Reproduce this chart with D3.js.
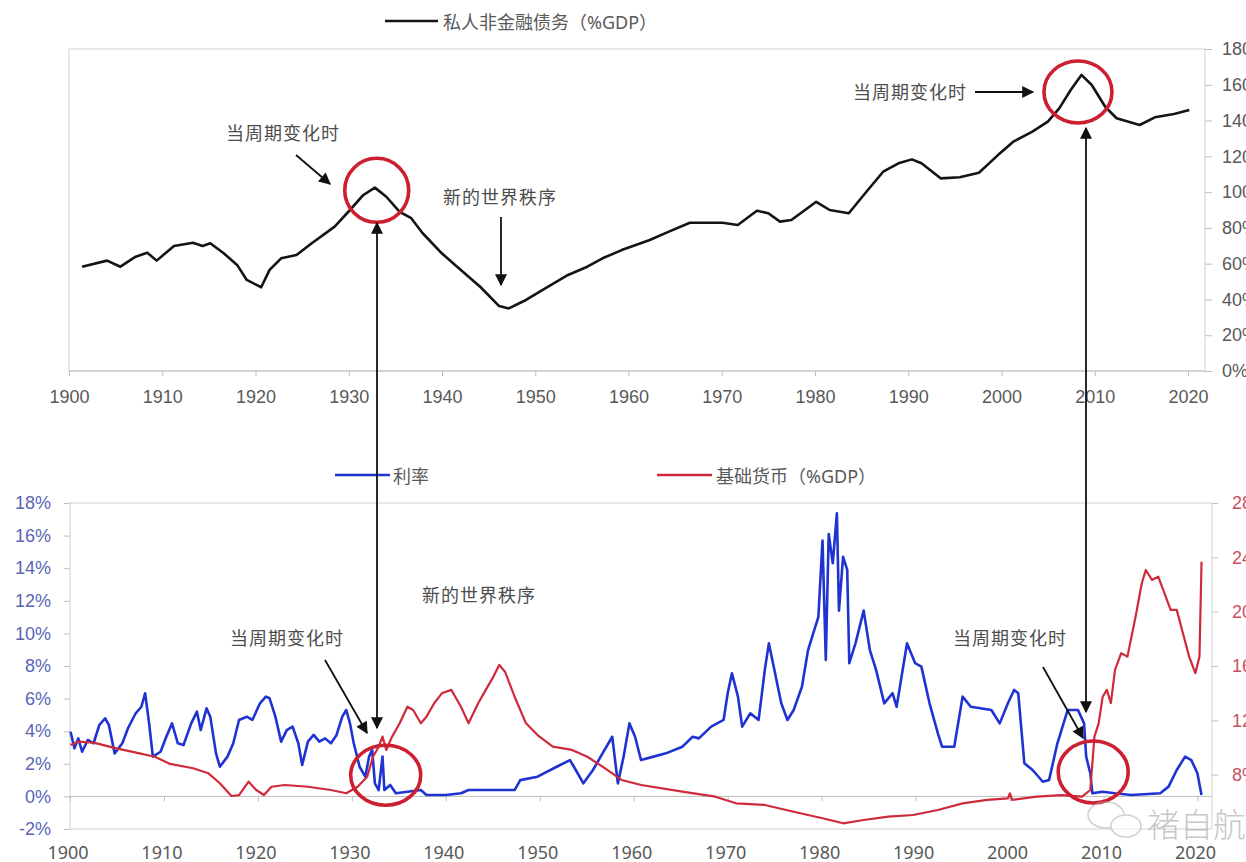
<!DOCTYPE html>
<html>
<head>
<meta charset="utf-8">
<script src="https://cdn.jsdelivr.net/npm/d3@7"></script>
<style>
  body { margin: 0; background: #fff; overflow: hidden; }
  svg { display: block; font-family: "Noto Sans", "Noto Sans CJK SC", sans-serif; }
</style>
</head>
<body>
<div id="chart"></div>
<script>
// private non-financial debt (%GDP)
const debtYears = [1901.40,1904.08,1905.51,1907.15,1908.39,1909.40,1911.26,1913.30,1914.33,1915.15,
  1916.59,1918.03,1919.06,1920.61,1921.51,1922.75,1924.39,1926.03,1928.49,1930.13,
  1931.57,1932.80,1934.03,1935.46,1936.70,1937.93,1939.98,1941.62,1944.09,1946.13,
  1947.16,1949.01,1951.07,1953.52,1955.58,1957.22,1959.27,1962.28,1964.33,1966.58,
  1970.08,1971.72,1973.77,1975.00,1976.24,1977.47,1980.13,1981.57,1983.62,1985.67,
  1987.31,1988.95,1990.39,1991.42,1993.47,1995.52,1997.58,1999.62,2001.26,2003.31,
  2004.97,2006.19,2007.42,2008.57,2009.68,2011.12,2012.34,2014.81,2016.45,2018.50,2020.14];
const debtValues = [58.3,61.7,58.3,63.9,66.1,61.7,69.9,71.7,69.9,71.4,
  65.8,59.3,50.9,46.8,56.5,63.0,64.8,71.4,80.7,90.0,
  98.4,102.5,97.4,89.0,85.4,77.0,65.8,58.3,47.1,36.3,
  35.0,39.7,46.2,53.7,58.3,63.0,67.6,73.2,77.9,82.9,
  82.9,81.6,89.6,88.2,83.5,84.4,94.6,90.0,88.2,101.2,
  111.4,116.1,118.3,116.1,107.7,108.3,110.8,120.7,128.2,133.8,
  139.4,146.8,157.1,165.5,159.9,147.7,141.3,137.5,141.8,143.7,145.9];

// interest rate (%), left axis of the bottom panel
const rateYears = [1900.06,1900.47,1900.88,1901.29,1901.89,1902.51,1903.12,1903.74,1904.14,1904.75,
  1905.57,1906.17,1906.99,1907.60,1908.00,1908.42,1908.82,1909.64,1910.25,1910.86,
  1911.47,1912.08,1912.90,1913.51,1913.91,1914.53,1914.93,1915.54,1915.95,1916.76,
  1917.38,1917.99,1918.81,1919.41,1920.22,1920.84,1921.24,1921.86,1922.47,1923.07,
  1923.69,1924.30,1924.71,1925.32,1925.93,1926.54,1927.15,1927.77,1928.37,1928.98,
  1929.40,1929.80,1930.20,1930.82,1931.43,1931.83,1932.16,1932.45,1932.85,1933.26,
  1933.46,1934.08,1934.68,1935.91,1937.34,1937.94,1939.99,1941.61,1942.42,1947.32,
  1947.92,1949.76,1951.80,1953.21,1953.83,1954.64,1955.66,1956.68,1957.71,1958.31,
  1958.92,1959.54,1960.14,1960.77,1962.11,1963.42,1965.18,1966.27,1966.93,1968.24,
  1969.56,1970.00,1970.45,1971.09,1971.54,1972.41,1973.29,1973.95,1974.38,1974.82,
  1975.70,1976.36,1977.02,1977.90,1978.55,1979.21,1979.65,1980.09,1980.44,1980.75,
  1981.18,1981.62,1981.84,1982.28,1982.72,1982.94,1983.60,1984.47,1985.13,1985.79,
  1986.66,1987.54,1987.98,1989.08,1989.95,1990.61,1991.48,1992.37,1992.81,1994.11,
  1995.00,1995.87,1998.06,1998.95,1999.82,2000.48,2000.92,2001.57,2002.45,2003.54,
  2004.20,2005.09,2006.18,2007.28,2007.93,2008.15,2008.59,2008.81,2009.91,2011.22,
  2012.97,2016.04,2016.92,2017.79,2018.68,2019.34,2019.99,2020.43];
const rateValues = [3.97,2.95,3.56,2.74,3.46,3.26,4.38,4.79,4.38,2.64,
  3.26,4.18,5.10,5.50,6.33,4.48,2.44,2.74,3.66,4.48,
  3.26,3.15,4.48,5.20,4.07,5.40,4.89,2.64,1.82,2.44,
  3.26,4.69,4.89,4.69,5.71,6.12,6.02,4.89,3.36,4.07,
  4.28,3.26,1.93,3.36,3.77,3.36,3.56,3.26,3.77,4.89,
  5.30,4.48,3.26,1.82,1.21,2.44,2.85,0.80,0.39,2.44,
  0.39,0.70,0.19,0.29,0.39,0.09,0.09,0.19,0.39,0.39,
  1.00,1.21,1.82,2.23,1.62,0.80,1.62,2.64,3.66,0.80,
  2.44,4.48,3.66,2.23,2.44,2.64,3.05,3.66,3.56,4.28,
  4.69,6.33,7.55,6.12,4.28,5.10,4.69,7.76,9.39,8.17,
  5.71,4.69,5.30,6.73,8.98,10.20,11.02,15.70,8.37,16.10,
  14.30,17.37,11.40,14.70,13.90,8.17,9.39,11.40,8.98,7.76,
  5.71,6.33,5.50,9.39,8.17,7.96,5.71,3.87,3.05,3.05,
  6.12,5.50,5.30,4.48,5.71,6.53,6.33,2.03,1.62,0.90,
  1.00,3.26,5.30,5.30,4.48,2.44,1.42,0.19,0.29,0.19,
  0.09,0.19,0.60,1.62,2.44,2.23,1.42,0.09];

// base money (%GDP), right axis of the bottom panel
const baseYears = [1900.06,1900.88,1902.51,1904.95,1907.40,1909.03,1910.65,1913.10,1914.73,1915.95,
  1917.18,1917.99,1919.01,1919.82,1920.64,1921.45,1922.87,1925.32,1927.77,1929.40,
  1930.61,1931.63,1932.25,1932.85,1933.26,1933.66,1934.28,1935.09,1935.91,1936.52,
  1937.34,1937.94,1938.76,1939.57,1940.59,1941.00,1941.61,1942.42,1943.44,1944.25,
  1945.07,1945.68,1946.30,1947.32,1948.53,1949.76,1951.38,1953.43,1955.06,1956.68,
  1958.71,1960.79,1965.18,1968.69,1970.88,1973.95,1977.02,1980.09,1982.28,1984.47,
  1987.10,1989.73,1992.37,1995.00,1997.63,1999.82,2000.04,2000.26,2002.89,2005.53,
  2007.71,2008.59,2009.03,2009.48,2009.91,2010.35,2010.78,2011.22,2011.88,2012.54,
  2013.41,2014.07,2014.50,2015.16,2015.82,2016.48,2017.14,2017.79,2018.45,2019.11,
  2019.77,2020.21,2020.43];
const baseValues = [10.19,10.43,10.36,9.94,9.57,9.32,8.79,8.47,8.10,7.37,
  6.43,6.50,7.48,6.87,6.50,7.11,7.24,7.11,6.87,6.63,
  7.11,7.85,9.32,10.06,10.80,9.82,10.80,11.78,13.00,12.76,
  11.78,12.27,13.26,13.99,14.24,13.74,13.00,11.78,13.26,14.24,
  15.22,16.08,15.58,13.74,11.78,10.92,10.06,9.82,9.32,8.59,
  7.61,7.24,6.75,6.38,5.89,5.77,5.27,4.79,4.42,4.66,
  4.91,5.03,5.40,5.89,6.14,6.26,6.63,6.14,6.38,6.50,
  6.38,6.87,10.80,11.78,13.74,14.24,13.26,15.71,16.94,16.69,
  19.63,22.09,23.07,22.33,22.58,21.36,20.13,20.13,18.41,16.69,
  15.47,16.69,23.68];

const yearTicks = d3.range(1900, 2021, 10);
const debtTicks = d3.range(0, 181, 20);
const rateTicks = d3.range(-2, 19, 2);
const baseTicks = d3.range(8, 29, 4);

const W = 1246, H = 862;
const labelGrey = '#595959';
const noteGrey = '#4d4d4d';
const circleRed = '#cc1f2f';

const svg = d3.select('#chart').append('svg')
  .attr('width', W).attr('height', H);

svg.append('defs').append('marker')
  .attr('id', 'head')
  .attr('viewBox', '0 0 10 10')
  .attr('refX', 9).attr('refY', 5)
  .attr('markerUnits', 'userSpaceOnUse')
  .attr('markerWidth', 13).attr('markerHeight', 12)
  .attr('orient', 'auto-start-reverse')
  .append('path')
  .attr('d', 'M0,0 L10,5 L0,10 Z')
  .attr('fill', '#111');

// ---------- top panel ----------
const topBox = { left: 69, right: 1205, top: 49, bottom: 371 };
const xTop = d3.scaleLinear().domain([1900, 2020]).range([69, 1188]);
const yDebt = d3.scaleLinear().domain([0, 180]).range([topBox.bottom, topBox.top]);

svg.append('rect')
  .attr('x', topBox.left).attr('y', topBox.top)
  .attr('width', topBox.right - topBox.left).attr('height', topBox.bottom - topBox.top)
  .attr('fill', 'none').attr('stroke', '#d9d9d9').attr('stroke-width', 1.2);

const gTopX = svg.append('g')
  .attr('transform', `translate(0,${topBox.bottom})`)
  .call(d3.axisBottom(xTop).tickValues(yearTicks).tickFormat(d3.format('d')).tickSize(5).tickPadding(14));
gTopX.select('.domain').attr('stroke', '#bfbfbf').attr('d', `M${topBox.left},0H${topBox.right}`);

const gTopY = svg.append('g')
  .attr('transform', `translate(${topBox.right},0)`)
  .call(d3.axisRight(yDebt).tickValues(debtTicks).tickFormat(d => d + '%').tickSize(7).tickPadding(10));
gTopY.select('.domain').remove();

[gTopX, gTopY].forEach(g => {
  g.selectAll('.tick line').attr('stroke', '#bfbfbf');
  g.selectAll('.tick text').attr('fill', labelGrey).attr('font-size', 18);
});

const debtLine = d3.line()
  .x((d, i) => xTop(debtYears[i]))
  .y(d => yDebt(d))
  .curve(d3.curveLinear);

svg.append('path')
  .attr('d', debtLine(debtValues))
  .attr('fill', 'none').attr('stroke', '#141414')
  .attr('stroke-width', 2.6).attr('stroke-linejoin', 'round');

// top legend
svg.append('line').attr('x1', 385).attr('x2', 438).attr('y1', 21).attr('y2', 21)
  .attr('stroke', '#141414').attr('stroke-width', 2.6);
svg.append('text').attr('x', 443).attr('y', 22).attr('dominant-baseline', 'central')
  .attr('font-size', 18).attr('fill', labelGrey).text('私人非金融债务（%GDP）');

// ---------- bottom panel ----------
const botBox = { left: 70, right: 1212, top: 503, bottom: 829 };
const xBot = d3.scaleLinear().domain([1900, 2020]).range([70, 1197.5]);
const yRate = d3.scaleLinear().domain([-2, 18]).range([botBox.bottom, botBox.top]);
const yBase = d3.scaleLinear().domain([4, 28]).range([botBox.bottom, botBox.top]);

svg.append('rect')
  .attr('x', botBox.left).attr('y', botBox.top)
  .attr('width', botBox.right - botBox.left).attr('height', botBox.bottom - botBox.top)
  .attr('fill', 'none').attr('stroke', '#d9d9d9').attr('stroke-width', 1.2);

// zero line carries the year ticks, labels sit under the frame
const gZero = svg.append('g')
  .attr('transform', `translate(0,${yRate(0)})`)
  .call(d3.axisBottom(xBot).tickValues(yearTicks).tickFormat('').tickSize(5));
gZero.select('.domain').attr('stroke', '#bfbfbf').attr('d', `M${botBox.left},0H${botBox.right}`);
gZero.selectAll('.tick line').attr('stroke', '#bfbfbf');

svg.append('g').selectAll('text')
  .data(yearTicks)
  .enter().append('text')
  .attr('x', d => xBot(d) - 2)
  .attr('y', 852)
  .attr('text-anchor', 'middle').attr('dominant-baseline', 'central')
  .attr('font-size', 18).attr('fill', labelGrey)
  .text(d => d);

const gRate = svg.append('g')
  .attr('transform', `translate(${botBox.left},0)`)
  .call(d3.axisLeft(yRate).tickValues(rateTicks).tickFormat(d => d + '%').tickSize(6).tickPadding(13));
gRate.select('.domain').remove();
gRate.selectAll('.tick line').attr('stroke', '#bfbfbf');
gRate.selectAll('.tick text').attr('fill', '#5866b8').attr('font-size', 18);

const gBase = svg.append('g')
  .attr('transform', `translate(${botBox.right},0)`)
  .call(d3.axisRight(yBase).tickValues(baseTicks).tickFormat(d => d + '%').tickSize(6).tickPadding(14));
gBase.select('.domain').remove();
gBase.selectAll('.tick line').attr('stroke', '#bfbfbf');
gBase.selectAll('.tick text').attr('fill', '#c9505f').attr('font-size', 18);

const rateLine = d3.line()
  .x((d, i) => xBot(rateYears[i]))
  .y(d => yRate(d));
const baseLine = d3.line()
  .x((d, i) => xBot(baseYears[i]))
  .y(d => yBase(d));

svg.append('path')
  .attr('d', rateLine(rateValues))
  .attr('fill', 'none').attr('stroke', '#1f33d2')
  .attr('stroke-width', 2.6).attr('stroke-linejoin', 'round');

svg.append('path')
  .attr('d', baseLine(baseValues))
  .attr('fill', 'none').attr('stroke', '#cf2a3c')
  .attr('stroke-width', 2.2).attr('stroke-linejoin', 'round');

// bottom legend
svg.append('line').attr('x1', 335).attr('x2', 390).attr('y1', 475).attr('y2', 475)
  .attr('stroke', '#1f33d2').attr('stroke-width', 2.4);
svg.append('text').attr('x', 393).attr('y', 476).attr('dominant-baseline', 'central')
  .attr('font-size', 18).attr('fill', labelGrey).text('利率');
svg.append('line').attr('x1', 657).attr('x2', 712).attr('y1', 475).attr('y2', 475)
  .attr('stroke', '#cf2a3c').attr('stroke-width', 2.4);
svg.append('text').attr('x', 716).attr('y', 476).attr('dominant-baseline', 'central')
  .attr('font-size', 18).attr('fill', labelGrey).text('基础货币（%GDP）');

// ---------- annotations ----------
const rings = [
  { cx: xTop(1933), cy: yDebt(101), rx: 32, ry: 32 },
  { cx: xTop(2008.2), cy: yDebt(156), rx: 34, ry: 31 },
  { cx: xBot(1933.6), cy: yRate(1.3), rx: 35, ry: 30 },
  { cx: xBot(2008.9), cy: yRate(1.5), rx: 35, ry: 31 }
];
svg.append('g').selectAll('ellipse')
  .data(rings)
  .enter().append('ellipse')
  .attr('cx', d => d.cx).attr('cy', d => d.cy)
  .attr('rx', d => d.rx).attr('ry', d => d.ry)
  .attr('fill', 'none').attr('stroke', circleRed).attr('stroke-width', 3.6);

const arrows = [
  { x1: 377, y1: 728, x2: 377, y2: 223, both: true },
  { x1: 1086, y1: 712, x2: 1086, y2: 128, both: true },
  { x1: 296, y1: 155, x2: 330, y2: 184 },
  { x1: 501, y1: 217, x2: 501, y2: 285 },
  { x1: 975, y1: 92, x2: 1033, y2: 92 },
  { x1: 325, y1: 660, x2: 367, y2: 733 },
  { x1: 1043, y1: 667, x2: 1083, y2: 738 }
];
svg.append('g').selectAll('line')
  .data(arrows)
  .enter().append('line')
  .attr('x1', d => d.x1).attr('y1', d => d.y1)
  .attr('x2', d => d.x2).attr('y2', d => d.y2)
  .attr('stroke', '#111').attr('stroke-width', 1.8)
  .attr('marker-end', 'url(#head)')
  .attr('marker-start', d => d.both ? 'url(#head)' : null);

const notes = [
  { x: 283, y: 133, t: '当周期变化时' },
  { x: 500, y: 197, t: '新的世界秩序' },
  { x: 910, y: 92, t: '当周期变化时' },
  { x: 479, y: 595, t: '新的世界秩序' },
  { x: 287, y: 638, t: '当周期变化时' },
  { x: 1010, y: 638, t: '当周期变化时' }
];
svg.append('g').selectAll('text')
  .data(notes)
  .enter().append('text')
  .attr('x', d => d.x).attr('y', d => d.y)
  .attr('text-anchor', 'middle').attr('dominant-baseline', 'central')
  .attr('font-size', 18).attr('letter-spacing', 1).attr('fill', noteGrey)
  .text(d => d.t);

// watermark
const wm = svg.append('g').attr('opacity', 0.55);
wm.append('ellipse').attr('cx', 1106).attr('cy', 815).attr('rx', 18).attr('ry', 13)
  .attr('fill', 'none').attr('stroke', '#aaa').attr('stroke-width', 1.5);
wm.append('ellipse').attr('cx', 1126).attr('cy', 826).attr('rx', 15).attr('ry', 11)
  .attr('fill', '#fff').attr('stroke', '#aaa').attr('stroke-width', 1.5);
wm.append('text').attr('x', 1147).attr('y', 823).attr('dominant-baseline', 'central')
  .attr('font-size', 33).attr('font-weight', 300).attr('fill', '#9a9a9a')
  .attr('font-family', '"Noto Sans CJK SC", sans-serif')
  .text('褚自航');
</script>
</body>
</html>
